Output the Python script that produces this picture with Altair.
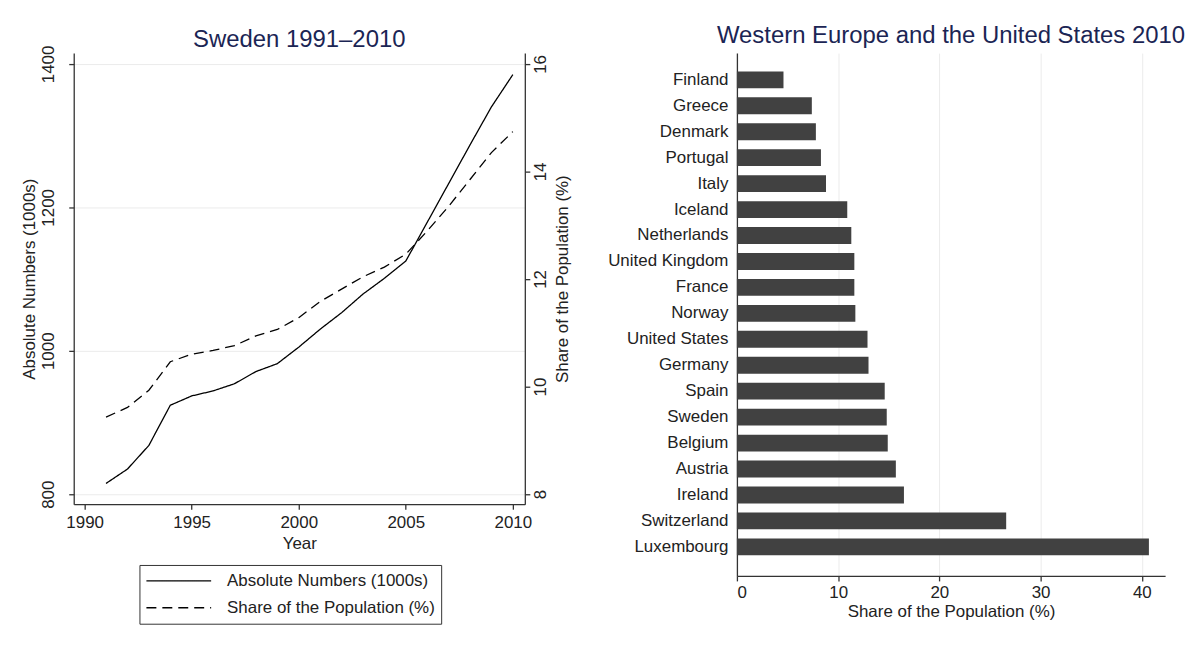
import altair as alt
import pandas as pd

# ---- Data: Sweden 1991-2010 ----
years = list(range(1991, 2011))
absolute_1000s = [815, 835, 868, 924, 937, 944, 954, 971, 982, 1005,
                  1030, 1053, 1079, 1101, 1125, 1179, 1233, 1287, 1340, 1385]
share_pct = [9.43, 9.61, 9.93, 10.46, 10.60, 10.67, 10.76, 10.94, 11.06, 11.28,
             11.58, 11.81, 12.04, 12.22, 12.46, 12.89, 13.35, 13.85, 14.35, 14.74]

# ---- Data: Western Europe and the United States 2010 ----
countries = ["Finland", "Greece", "Denmark", "Portugal", "Italy", "Iceland",
             "Netherlands", "United Kingdom", "France", "Norway", "United States",
             "Germany", "Spain", "Sweden", "Belgium", "Austria", "Ireland",
             "Switzerland", "Luxembourg"]
country_share = [4.6, 7.4, 7.8, 8.3, 8.8, 10.9, 11.3, 11.6, 11.6, 11.7, 12.9,
                 13.0, 14.6, 14.8, 14.9, 15.7, 16.5, 26.6, 40.7]

series_names = ["Absolute Numbers (1000s)", "Share of the Population (%)"]
year_ticks = [1990, 1995, 2000, 2005, 2010]
abs_ticks = [800, 1000, 1200, 1400]
share_ticks = [8, 10, 12, 14, 16]
bar_ticks = [0, 10, 20, 30, 40]

line_df = pd.DataFrame({"Year": years, "Absolute": absolute_1000s, "Share": share_pct})
bar_df = pd.DataFrame({"Country": countries, "Share": country_share})

FONT = "Liberation Sans"
TXT = "#222222"
AX = "#333333"
GRID = "#ebebeb"

x_year = alt.X(
    "Year:Q",
    scale=alt.Scale(domain=[1989.49, 2010.56], nice=False, zero=False),
    axis=alt.Axis(values=year_ticks, format="d", title="Year", grid=False,
                  labelPadding=5, titlePadding=5),
)

dash = alt.StrokeDash(
    "series:N",
    scale=alt.Scale(domain=series_names, range=[[1, 0], [10, 6]]),
    legend=alt.Legend(
        title=None, orient="none", legendX=66, legendY=514, direction="vertical",
        strokeColor="#333333", padding=6, symbolType="stroke", symbolSize=4225,
        symbolStrokeWidth=1.4, symbolStrokeColor="black", labelFontSize=17,
        labelFont=FONT, labelColor=TXT, labelOffset=15, clipHeight=20,
        rowPadding=7, labelLimit=400,
    ),
)

abs_line = alt.Chart(line_df).mark_line(color="black", strokeWidth=1.3).encode(
    x=x_year,
    y=alt.Y(
        "Absolute:Q",
        scale=alt.Scale(domain=[786, 1415], nice=False, zero=False),
        axis=alt.Axis(orient="left", values=abs_ticks, format="d", grid=True,
                      gridColor=GRID, labelAngle=270, labelAlign="center",
                      labelBaseline="bottom", labelPadding=11, titlePadding=1,
                      title="Absolute Numbers (1000s)"),
    ),
    strokeDash=dash,
).transform_calculate(series="'Absolute Numbers (1000s)'")

share_line = alt.Chart(line_df).mark_line(color="black", strokeWidth=1.3).encode(
    x=x_year,
    y=alt.Y(
        "Share:Q",
        scale=alt.Scale(domain=[7.81, 16.2], nice=False, zero=False),
        axis=alt.Axis(orient="right", values=share_ticks, format="d", grid=False,
                      labelAngle=270, labelAlign="center", labelBaseline="top",
                      labelPadding=3, titleAngle=270, titlePadding=23,
                      title="Share of the Population (%)"),
    ),
    strokeDash=dash,
).transform_calculate(series="'Share of the Population (%)'")

left = alt.layer(abs_line, share_line).resolve_scale(y="independent").properties(
    width=453, height=453,
    title=alt.TitleParams("Sweden 1991\u20132010", offset=-7),
)

bars = alt.Chart(bar_df).mark_bar(color="#414141").encode(
    x=alt.X(
        "Share:Q",
        scale=alt.Scale(domain=[0, 42.3], nice=False, zero=True),
        axis=alt.Axis(values=bar_ticks, format="d", grid=True, gridColor=GRID,
                      title="Share of the Population (%)", labelPadding=4,
                      titlePadding=3),
    ),
    y=alt.Y(
        "Country:N", sort=countries,
        scale=alt.Scale(paddingInner=0.35, paddingOuter=0.75, align=0.47),
        axis=alt.Axis(title=None, ticks=False, labelPadding=9, grid=False),
    ),
).properties(
    width=430, height=525,
    title=alt.TitleParams("Western Europe and the United States 2010", offset=5),
)

chart = alt.hconcat(left, bars, spacing=37).properties(
    padding={"left": 13, "top": 15, "right": 5, "bottom": 5},
    background="white",
).configure_axis(
    labelFont=FONT, labelFontSize=17, labelColor=TXT,
    titleFont=FONT, titleFontSize=17, titleFontWeight="normal", titleColor=TXT,
    domainColor=AX, domainWidth=1.3, tickColor=AX, tickWidth=1.3, tickSize=5,
).configure_title(
    font=FONT, fontSize=24, fontWeight="normal", color="#1b2554",
    anchor="middle", frame="group",
).configure_view(stroke=None)

chart.save("out.html", embed_options={"renderer": "svg", "actions": False})
